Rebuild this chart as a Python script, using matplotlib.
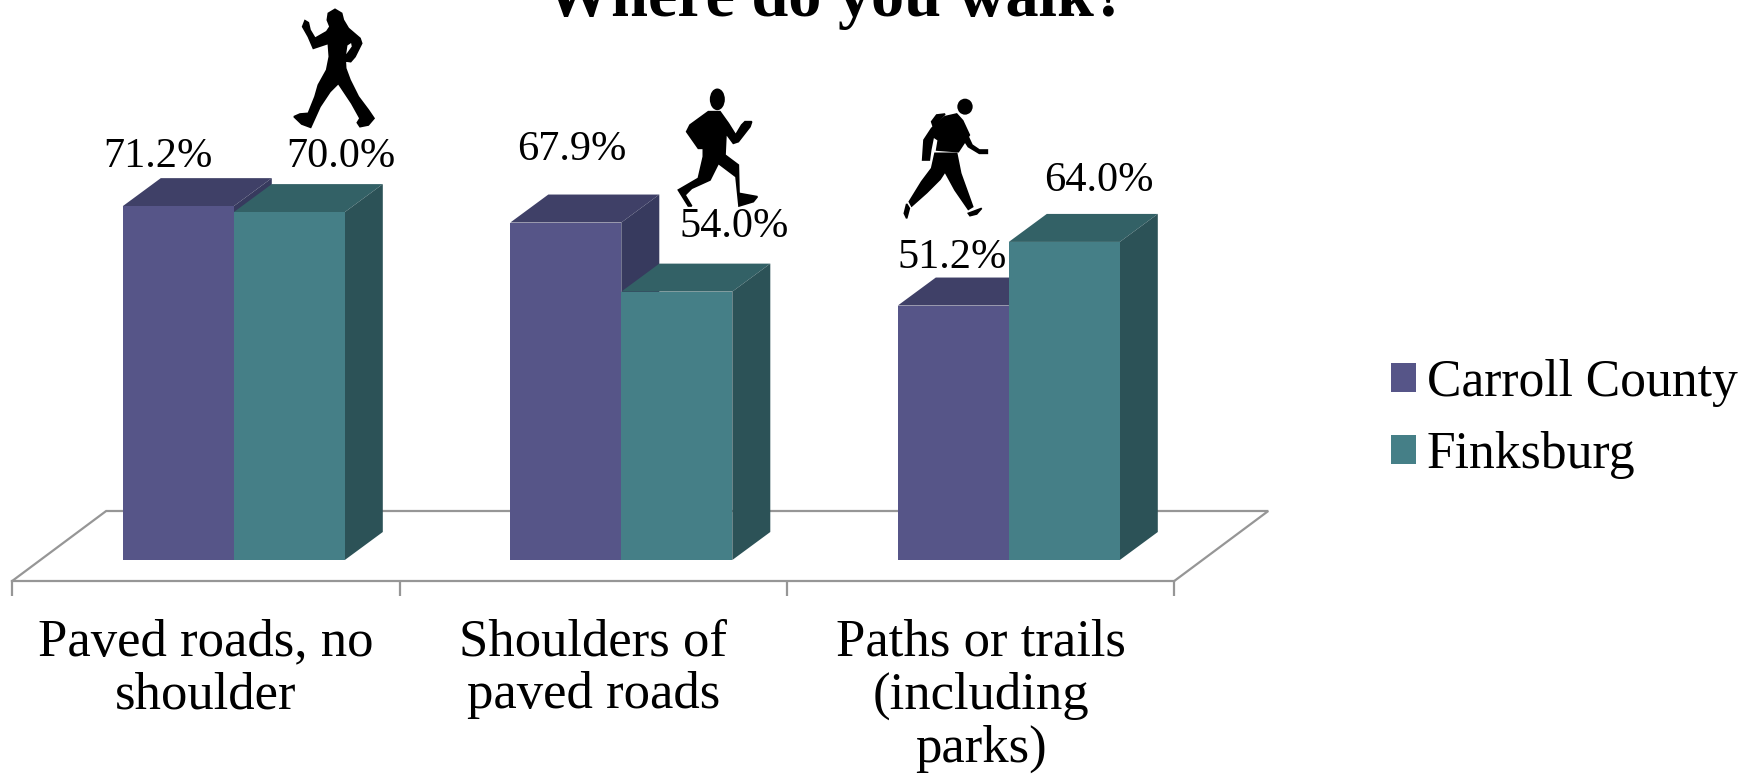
import numpy as np
import matplotlib
matplotlib.use("Agg")
import matplotlib.pyplot as plt
from matplotlib.patches import Polygon, Ellipse
from matplotlib.transforms import Affine2D

plt.rcParams['font.family'] = ['Liberation Serif', 'DejaVu Serif']

#Donnees
categories = ["Paved roads, no\nshoulder", "Shoulders of\npaved roads", "Paths or trails\n(including\nparks)"]
carroll = [71.2, 67.9, 51.2]
finksburg = [70.0, 54.0, 64.0]
series_names = ["Carroll County", "Finksburg"]

#Couleurs : face, dessus, cote
violet = ["#565588", "#3f4067", "#373a5e"]
sarcelle = ["#457f87", "#336166", "#2c5257"]
gris = "#969696"

W, H = 1746, 775
px_x = 387.5   # pixels par categorie
px_y = 4.97    # pixels par point de %
largeur = 111 / px_x
dx = 38 / px_x
dy = 28 / px_y

fig = plt.figure(figsize=(W / 100, H / 100), dpi=100)
ax = fig.add_axes([0, 0, 1, 1])
ax.set_xlim(-233.8 / px_x, (W - 233.8) / px_x)
ax.set_ylim(-(H - 560) / px_y, 560 / px_y)

x = np.arange(len(categories))


#Barre en 3D : face par ax.bar, dessus et cote en polygones
def barres(xpos, valeurs, couleurs, label, z):
    ax.bar(xpos, valeurs, largeur, color=couleurs[0], label=label, zorder=z + 0.2)
    for xi, v in zip(xpos, valeurs):
        g, d = xi - largeur / 2, xi + largeur / 2
        ax.add_patch(Polygon([(g, v), (d, v), (d + dx, v + dy), (g + dx, v + dy)],
                             color=couleurs[1], lw=0, zorder=z))
        ax.add_patch(Polygon([(d, 0), (d, v), (d + dx, v + dy), (d + dx, dy)],
                             color=couleurs[2], lw=0, zorder=z))


#Sol du graphique
sol_y = -21 / px_y
fond_y = 49 / px_y
sol_g, sol_d = -0.572, 2.427
decal = 94 / px_x
ax.plot([sol_g, sol_g + decal, sol_d + decal, sol_d], [sol_y, fond_y, fond_y, sol_y],
        color=gris, lw=1.6, zorder=1, solid_joinstyle="miter")

barres(x - largeur / 2, carroll, violet, series_names[0], 2)
barres(x + largeur / 2, finksburg, sarcelle, series_names[1], 3)

#Axe des categories
for cote in ["left", "right", "top"]:
    ax.spines[cote].set_visible(False)
ax.spines["bottom"].set_position(("data", sol_y))
ax.spines["bottom"].set_bounds(sol_g, sol_d)
ax.spines["bottom"].set_color(gris)
ax.spines["bottom"].set_linewidth(1.6)
ax.set_yticks([])
ax.set_xticks(sol_g + np.arange(4) * (sol_d - sol_g) / 3)
ax.set_xticklabels([])
ax.tick_params(axis="x", which="major", length=11, width=1.6, color=gris)
ax.set_xticks(sol_g + (np.arange(3) + 0.5) * (sol_d - sol_g) / 3, minor=True)
ax.set_xticklabels(categories, minor=True, fontsize=38, linespacing=1.13)
ax.tick_params(axis="x", which="minor", length=0, pad=27)

#Etiquettes de valeurs
etiquettes_x = [158, 341, 572, 734, 952, 1099]
etiquettes_y = [157, 157, 150, 227, 258, 181]
valeurs = [carroll[0], finksburg[0], carroll[1], finksburg[1], carroll[2], finksburg[2]]
xs = [x[0], x[0], x[1], x[1], x[2], x[2]]
for v, xi, ex, ey in zip(valeurs, xs, etiquettes_x, etiquettes_y):
    ax.annotate(f"{v:.1f}%", xy=(xi, v), xytext=(ex - (233.8 + xi * px_x), (560 - v * px_y) - ey),
                textcoords="offset pixels", ha="center", va="center", fontsize=30.5, zorder=6)

fig.text(836 / W, 1 - 16 / H, "Where do you walk?", fontsize=47.7, fontweight="bold",
         ha="center", va="baseline")

ax.legend(loc="center left", bbox_to_anchor=(1391 / W, 1 - 419 / H), frameon=False, fontsize=37.2,
          handlelength=0.49, handleheight=0.49, handletextpad=0.2, labelspacing=0.457, borderpad=0, borderaxespad=0)

#Silhouettes de marcheurs, tracees en pixels de l'image
pixels = Affine2D().scale(1 / W, -1 / H).translate(0, 1) + fig.transFigure


def forme(points, ox, oy, couleur="black"):
    pts = [(ox + a / 3, oy + b / 3) for a, b in points]
    fig.add_artist(Polygon(pts, closed=True, facecolor=couleur, edgecolor=couleur, lw=1.2,
                           transform=pixels, zorder=7))


def tete(cx, cy, l, h, ox, oy):
    fig.add_artist(Ellipse((ox + cx / 3, oy + cy / 3), l / 3, h / 3, color="black", lw=0,
                           transform=pixels, zorder=7))


forme([(165, 28), (185, 40), (190, 60), (205, 85), (240, 115), (245, 130), (225, 170), (212, 185),
       (198, 183), (200, 165), (218, 140), (215, 125), (200, 135), (195, 170), (197, 205), (210, 240),
       (235, 290), (265, 330), (282, 355), (265, 375), (240, 380), (232, 368), (240, 355), (215, 310),
       (175, 250), (150, 275), (120, 320), (92, 382), (65, 372), (42, 350), (60, 342), (85, 340),
       (105, 290), (115, 255), (140, 210), (148, 170), (145, 130), (100, 145), (85, 110), (68, 80),
       (75, 62), (85, 68), (90, 90), (105, 115), (140, 95), (150, 80), (142, 60), (145, 40)], 280, 0)

tete(142, 58, 45, 65, 670, 80)
forme([(115, 95), (150, 95), (175, 130), (197, 165), (215, 135), (225, 125), (245, 125), (240, 140),
       (205, 185), (190, 190), (168, 160), (165, 225), (205, 255), (207, 340), (262, 350), (250, 365),
       (207, 378), (198, 290), (145, 250), (120, 300), (65, 325), (45, 345), (65, 378), (55, 378),
       (25, 330), (85, 295), (100, 230), (100, 205), (85, 205), (50, 155), (60, 135)], 670, 80)

tete(225, 50, 46, 48, 890, 90)
forme([(125, 95), (140, 75), (165, 72), (130, 110)], 890, 90)
forme([(200, 72), (218, 92), (238, 135), (205, 185), (140, 180), (145, 150), (130, 140), (122, 180),
       (118, 210), (98, 210), (102, 150), (125, 115), (165, 80)], 890, 90)
forme([(232, 135), (246, 165), (268, 180), (292, 180), (292, 190), (268, 190), (235, 170), (222, 150)], 890, 90)
forme([(135, 190), (200, 190), (212, 250), (248, 350), (235, 358), (195, 300), (165, 245), (150, 268),
       (110, 308), (65, 348), (58, 335), (95, 275), (125, 235)], 890, 90)
forme([(235, 370), (275, 355), (260, 372), (240, 377)], 890, 90)
forme([(50, 342), (58, 355), (50, 385), (43, 370)], 890, 90)

plt.savefig("out.png", dpi=100)
